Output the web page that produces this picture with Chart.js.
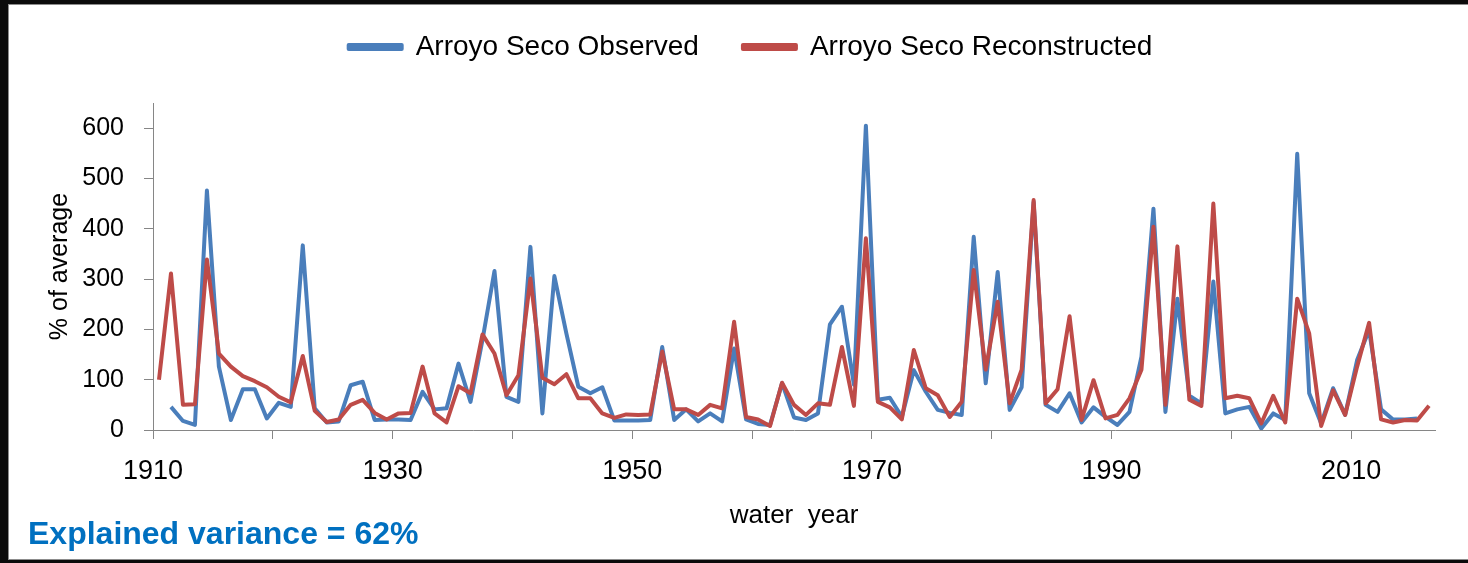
<!DOCTYPE html>
<html>
<head>
<meta charset="utf-8">
<script src="https://cdn.jsdelivr.net/npm/chart.js@4.4.1/dist/chart.umd.min.js"></script>
<style>
  html, body { margin: 0; padding: 0; background: #0b0b0b; }
  #frame {
    position: absolute; left: 8px; top: 4px; width: 1460px; height: 556px;
    background: #fff; border: 1px solid #8c8c8c; border-right: none; box-sizing: border-box;
  }
  #wrap { position: absolute; left: 0; top: 0; width: 1468px; height: 563px; }
  #note {
    position: absolute; left: 28px; top: 515px;
    font: bold 32px 'Liberation Sans', Arial, sans-serif; color: #0070C0;
    white-space: nowrap;
  }
</style>
</head>
<body>
<div id="frame"></div>
<div id="wrap"><canvas id="grafico" width="1468" height="563"></canvas></div>
<div id="note">Explained variance = 62%</div>
<script>
// anos hidrológicos (water years)
const anos = [
  1910, 1911, 1912, 1913, 1914, 1915, 1916, 1917, 1918, 1919,
  1920, 1921, 1922, 1923, 1924, 1925, 1926, 1927, 1928, 1929,
  1930, 1931, 1932, 1933, 1934, 1935, 1936, 1937, 1938, 1939,
  1940, 1941, 1942, 1943, 1944, 1945, 1946, 1947, 1948, 1949,
  1950, 1951, 1952, 1953, 1954, 1955, 1956, 1957, 1958, 1959,
  1960, 1961, 1962, 1963, 1964, 1965, 1966, 1967, 1968, 1969,
  1970, 1971, 1972, 1973, 1974, 1975, 1976, 1977, 1978, 1979,
  1980, 1981, 1982, 1983, 1984, 1985, 1986, 1987, 1988, 1989,
  1990, 1991, 1992, 1993, 1994, 1995, 1996, 1997, 1998, 1999,
  2000, 2001, 2002, 2003, 2004, 2005, 2006, 2007, 2008, 2009,
  2010, 2011, 2012, 2013, 2014, 2015, 2016
];

// % of average, observado
const observado = [
  null, 46, 18, 10, 476, 126, 20, 81, 81, 23,
  54, 46, 367, 43, 15, 17, 89, 96, 20, 21,
  21, 20, 76, 41, 43, 132, 56, 179, 316, 66,
  56, 364, 33, 306, 192, 86, 73, 85, 19, 19,
  19, 20, 165, 20, 41, 17, 33, 17, 162, 21,
  12, 10, 93, 25, 20, 33, 210, 245, 90, 605,
  60, 64, 26, 119, 76, 40, 34, 30, 384, 93,
  314, 40, 85, 453, 50, 36, 73, 15, 45, 26,
  10, 36, 146, 440, 36, 261, 68, 53, 295, 33,
  41, 46, 3, 33, 20, 549, 73, 13, 83, 30,
  139, 199, 41, 21, 21, 23, null
];

// % of average, reconstruído
const reconstruido = [
  100, 311, 50, 51, 339, 152, 126, 107, 97, 85,
  66, 55, 147, 38, 16, 21, 50, 60, 34, 21,
  33, 34, 126, 33, 15, 87, 73, 190, 152, 69,
  109, 301, 104, 91, 111, 63, 63, 33, 24, 31,
  30, 31, 156, 41, 41, 30, 50, 43, 215, 26,
  21, 8, 94, 50, 30, 53, 50, 165, 48, 381,
  56, 45, 21, 159, 83, 69, 26, 56, 318, 120,
  255, 53, 120, 457, 53, 81, 226, 20, 99, 23,
  30, 63, 120, 404, 50, 365, 60, 48, 450, 63,
  68, 63, 13, 68, 15, 261, 192, 8, 79, 30,
  126, 213, 21, 15, 20, 19, 48
];

// marcas do eixo x (a cada 10 anos) e rótulos (a cada 20)
const ticksX = [1910, 1920, 1930, 1940, 1950, 1960, 1970, 1980, 1990, 2000, 2010];
const rotulosX = [1910, 1930, 1950, 1970, 1990, 2010];
const ticksY = [0, 100, 200, 300, 400, 500, 600];

const AZUL = '#4A7EBB';
const VERMELHO = '#BE4B48';
const CINZA = '#868686';
const FONTE = "'Liberation Sans', Arial, sans-serif";

// altura fixa da legenda e pequeno deslocamento dela
const ajusteLegenda = {
  id: 'ajusteLegenda',
  beforeInit(chart) {
    chart.legend.fit = (function (fitOriginal) {
      return function () {
        fitOriginal.call(this);
        this.height = 103;
      };
    })(chart.legend.fit);
  },
  afterLayout(chart) {
    const lg = chart.legend;
    lg.top -= 11; lg.bottom -= 11;
    lg.left += 28; lg.right += 28;
  }
};

const ctx = document.getElementById('grafico').getContext('2d');
const myChart = new Chart(ctx, {
  type: 'line',
  data: {
    labels: anos,
    datasets: [
      {
        label: 'Arroyo Seco Observed',
        data: observado,
        borderColor: AZUL,
        backgroundColor: AZUL,
        borderWidth: 4,
        pointRadius: 0,
        tension: 0,
        borderJoinStyle: 'round',
        xAxisID: 'xd',
        order: 1
      },
      {
        label: 'Arroyo Seco Reconstructed',
        data: reconstruido,
        borderColor: VERMELHO,
        backgroundColor: VERMELHO,
        borderWidth: 4,
        pointRadius: 0,
        tension: 0,
        borderJoinStyle: 'round',
        xAxisID: 'xd',
        order: 0
      }
    ]
  },
  options: {
    responsive: false,
    animation: false,
    layout: { padding: { left: 10, right: 33, top: 0, bottom: 0 } },
    plugins: {
      tooltip: { enabled: false },
      legend: {
        position: 'top',
        labels: {
          color: '#000',
          font: { family: FONTE, size: 28 },
          boxWidth: 53,
          boxHeight: 4,
          padding: 44,
          sort: (a, b) => a.datasetIndex - b.datasetIndex
        }
      }
    },
    scales: {
      xd: {
        type: 'category',
        display: false,
        offset: true
      },
      x: {
        type: 'linear',
        position: 'bottom',
        min: 1910,
        max: 2017,
        afterBuildTicks: (scale) => {
          scale.ticks = ticksX.map(v => ({ value: v }));
        },
        afterFit: (scale) => { scale.height = 133; },
        border: { color: CINZA, width: 1 },
        grid: { drawOnChartArea: false, color: CINZA, tickLength: 9 },
        ticks: {
          autoSkip: false,
          maxRotation: 0,
          padding: 16,
          color: '#000',
          font: { family: FONTE, size: 27 },
          callback: (v) => rotulosX.includes(v) ? String(v) : ''
        },
        title: {
          display: true,
          text: 'water  year',
          color: '#000',
          font: { family: FONTE, size: 26 },
          padding: { top: 0, bottom: 32 }
        }
      },
      y: {
        min: 0,
        max: 650,
        afterBuildTicks: (scale) => {
          scale.ticks = ticksY.map(v => ({ value: v }));
        },
        afterFit: (scale) => { scale.width = 143; },
        border: { color: CINZA, width: 1 },
        grid: { drawOnChartArea: false, color: CINZA, tickLength: 9 },
        ticks: {
          padding: 20,
          color: '#000',
          font: { family: FONTE, size: 25 }
        },
        title: {
          display: true,
          text: '% of average',
          color: '#000',
          font: { family: FONTE, size: 25 },
          padding: { top: 35, bottom: 0 }
        }
      }
    }
  },
  plugins: [ajusteLegenda]
});
</script>
</body>
</html>
